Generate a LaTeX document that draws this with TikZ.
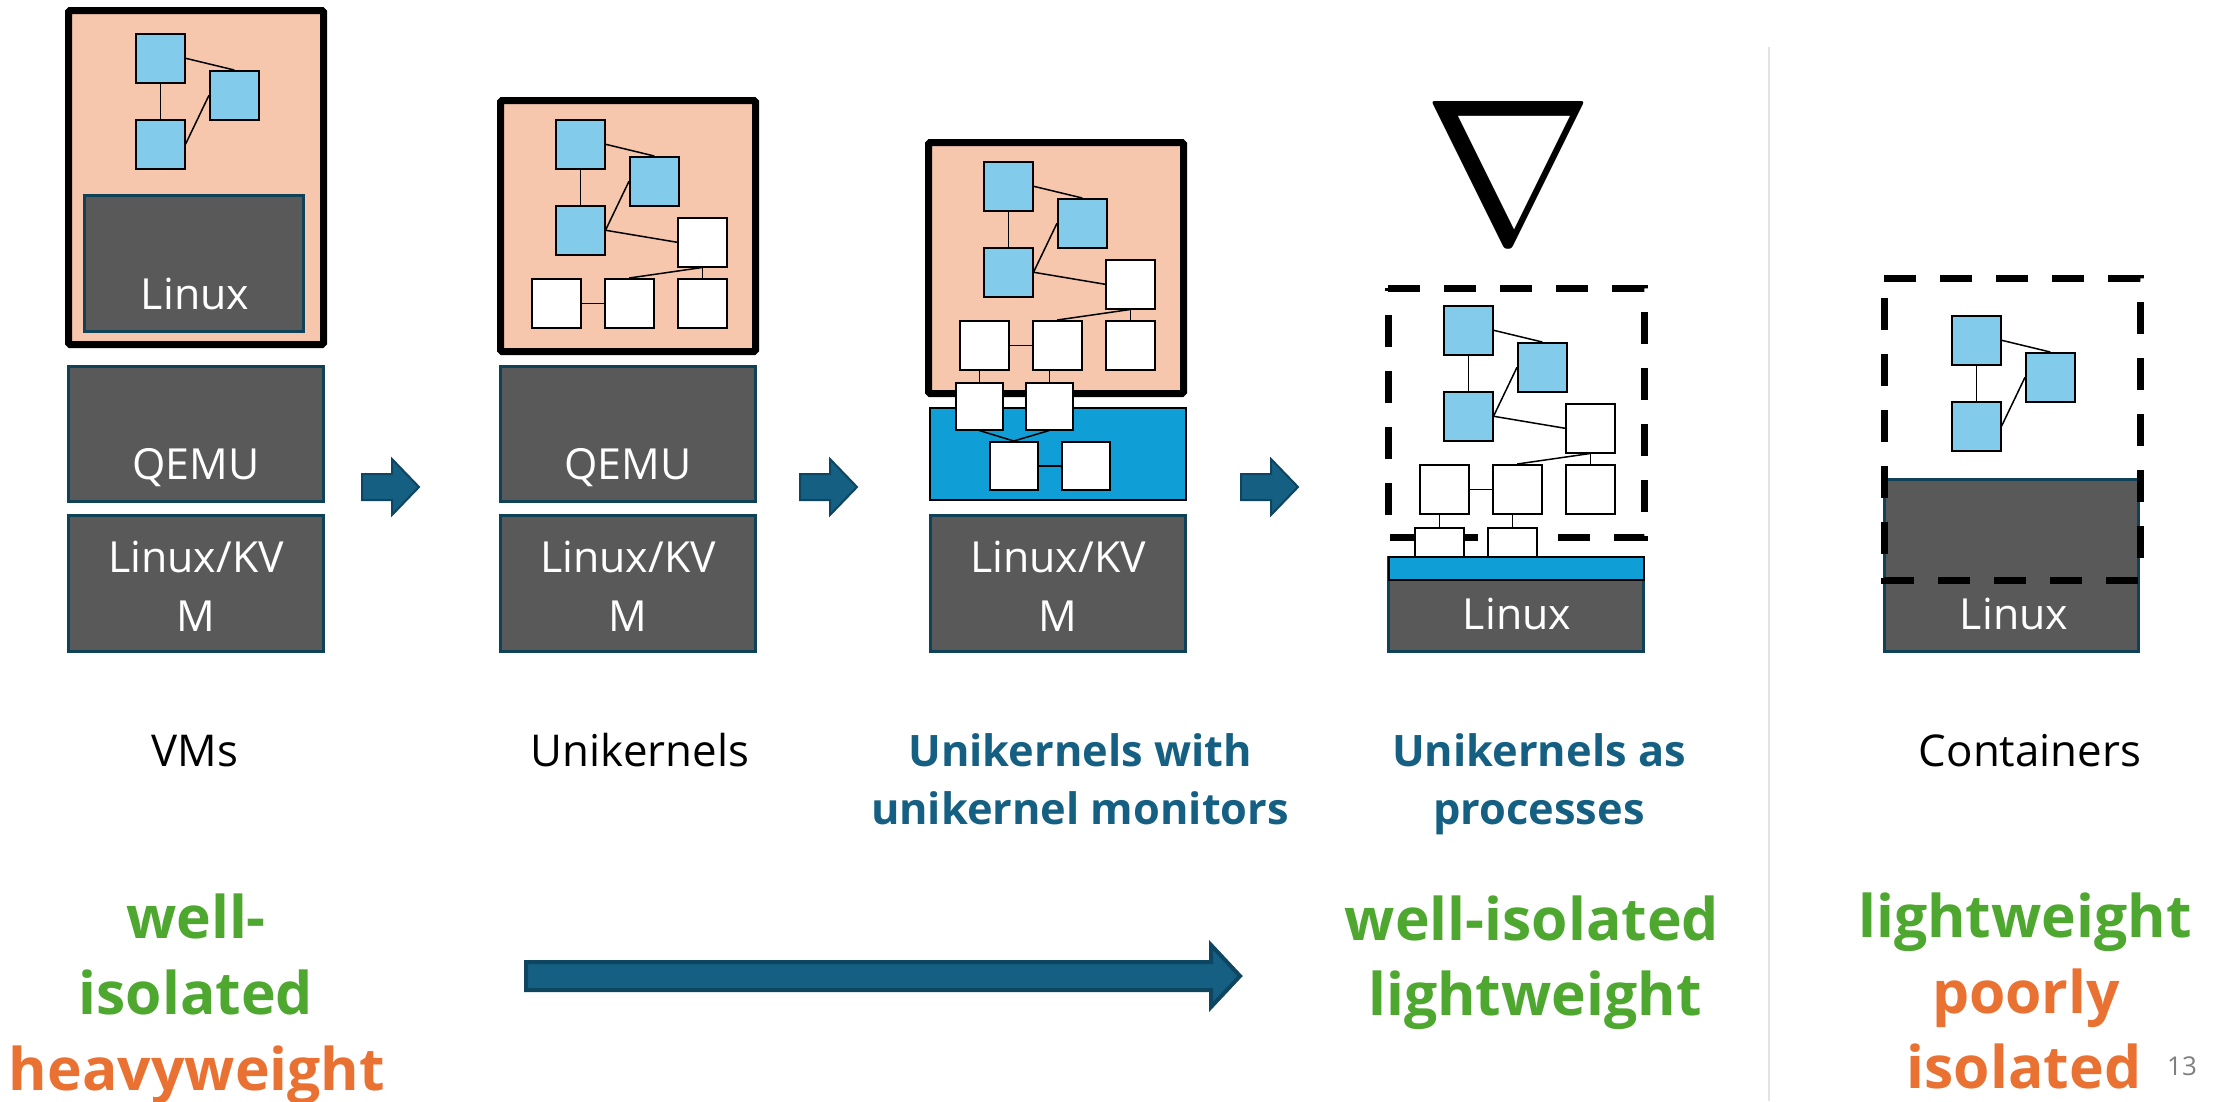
\documentclass[tikz,border=0pt]{standalone}
\usepackage{fontspec}
\setmainfont{Open Sans}
\usetikzlibrary{fit}
\definecolor{peach}{HTML}{F6C6AD}
\definecolor{sqblue}{HTML}{83CBEB}
\definecolor{boxgray}{HTML}{595959}
\definecolor{boxedge}{HTML}{0F4157}
\definecolor{monblue}{HTML}{0F9ED5}
\definecolor{arrowfill}{HTML}{156082}
\definecolor{arrowedge}{HTML}{0E4560}
\definecolor{okgreen}{HTML}{4EA72E}
\definecolor{badorange}{HTML}{E97132}
\definecolor{titleblue}{HTML}{156082}
\definecolor{sepgray}{HTML}{E3E3E3}
\definecolor{pagegray}{HTML}{7F7F7F}
\newcommand\trio[1]{%
  \node[sqb] (#1s1) at (0,0) {};
  \node[sqb] (#1s2) at (74,37) {};
  \node[sqb] (#1s3) at (0,86) {};
  \draw[conn] (#1s1.east) -- (#1s2.north);
  \draw[conn] (#1s1.south) -- (#1s3.north);
  \draw[conn] (#1s3.east) -- (#1s2.west);
}
\newcommand\whiterows[1]{%
  \node[sqw] (#1s4) at (122,98) {};
  \node[sqw] (#1w1) at (-24,159) {};
  \node[sqw] (#1w2) at (49,159) {};
  \node[sqw] (#1w3) at (122,159) {};
  \draw[conn] (#1s3.east) -- (#1s4.west);
  \draw[conn] (#1s4.south) -- (#1w3.north);
  \draw[conn] (#1s4.south) -- (#1w2.north);
  \draw[conn] (#1w1.east) -- (#1w2.west);
}
\newcommand\smallarrow[2]{%
  \begin{scope}[shift={(#2,0)}]
  \draw[arrowshape, line width=2bp] (0,474) -- (30,474) -- (30,459) -- (57,487)
     -- (30,515) -- (30,500) -- (0,500) -- cycle;
  \coordinate (#1) at (57,487);
  \end{scope}
}
\begin{document}
\begin{tikzpicture}[x=1bp,y=-1bp,
  sqb/.style={draw=black, line width=1.5bp, fill=sqblue, minimum width=49bp,
     minimum height=49bp, inner sep=0pt, anchor=north west},
  sqw/.style={sqb, fill=white},
  conn/.style={draw=black, line width=1.5bp},
  thickbox/.style={draw=black, fill=peach, line width=7bp, rounded corners=1.5bp,
     inner sep=0pt},
  graybox/.style={draw=boxedge, fill=boxgray, line width=3bp, inner sep=0pt},
  monbar/.style={draw=black, fill=monblue, line width=2bp, inner sep=0pt},
  dashbox/.style={draw=black, line width=7bp, dash pattern=on 32bp off 24bp},
  arrowshape/.style={fill=arrowfill, draw=arrowedge, line join=miter},
  boxtxt/.style={text=white, font=\fontsize{43}{50}\selectfont, anchor=base, inner sep=0pt},
  lbl/.style={text=black, font=\fontsize{44}{52}\selectfont, anchor=base, inner sep=0pt},
  lblb/.style={text=titleblue, font=\fontsize{43.5}{52}\selectfont\bfseries, anchor=base, inner sep=0pt},
  good/.style={text=okgreen, font=\fontsize{59}{68}\selectfont\bfseries, anchor=base, inner sep=0pt},
  bad/.style={good, text=badorange}
]
\useasboundingbox (0,0) rectangle (2221,1101);
\fill[white] (0,0) rectangle (2221,1101);

% ---------------- column 1 : VMs
\node[thickbox, fit={(68.5,10.5) (323.5,344.5)}] (vm1) {};
\node[graybox, fit={(84.5,195.5) (303.5,331.5)}] (glin1) {};
\node[boxtxt] (tglin1) at (195,309) {Linux};
\begin{scope}[shift={(135,33)}]
  \trio{a}
\end{scope}
\node[graybox, fit={(68.5,366.5) (323.5,501.5)}] (qemu1) {};
\node[boxtxt] (tqemu1) at (196,479) {QEMU};
\node[graybox, fit={(68.5,515.5) (323.5,651.5)}] (kvm1) {};
\node[boxtxt] (tkvma1) at (196,572) {Linux/KV};
\node[boxtxt] (tkvmb1) at (196,631) {M};
\smallarrow{arr1}{362}

% ---------------- column 2 : Unikernels
\node[thickbox, fit={(500.5,100.5) (755.5,351.5)}] (vm2) {};
\begin{scope}[shift={(555,119)}]
  \trio{b}
  \whiterows{b}
\end{scope}
\node[graybox, fit={(500.5,366.5) (755.5,501.5)}] (qemu2) {};
\node[boxtxt] (tqemu2) at (628,479) {QEMU};
\node[graybox, fit={(500.5,515.5) (755.5,651.5)}] (kvm2) {};
\node[boxtxt] (tkvma2) at (628,572) {Linux/KV};
\node[boxtxt] (tkvmb2) at (628,631) {M};
\smallarrow{arr2}{800}

% ---------------- column 3 : unikernel monitors
\node[thickbox, fit={(928.5,142.5) (1183.5,393.5)}] (vm3) {};
\node[monbar, fit={(930,408) (1186,500)}] (mon3) {};
\begin{scope}[shift={(983,161)}]
  \trio{c}
  \whiterows{c}
  \node[sqw, minimum width=47bp, minimum height=47bp] (cb1) at (-28,221) {};
  \node[sqw, minimum width=47bp, minimum height=47bp] (cb2) at (42,221) {};
  \node[sqw, minimum width=48bp, minimum height=48bp] (cm1) at (6,280) {};
  \node[sqw, minimum width=48bp, minimum height=48bp] (cm2) at (78,280) {};
  \draw[conn] (cb1.north) -- (cb1.north |- cw1.south);
  \draw[conn] (cb2.north) -- (cb2.north |- cw2.south);
  \draw[conn] (cb1.south) -- (cm1.north);
  \draw[conn] (cb2.south) -- (cm1.north);
  \draw[conn] (cm1.east) -- (cm2.west);
\end{scope}
\node[graybox, fit={(930.5,515.5) (1185.5,651.5)}] (kvm3) {};
\node[boxtxt] (tkvma3) at (1058,572) {Linux/KV};
\node[boxtxt] (tkvmb3) at (1058,631) {M};
\smallarrow{arr3}{1241}

% ---------------- column 4 : unikernels as processes
\node[inner sep=0pt] (nabla) at (1508.5,171.5) {\resizebox*{170bp}{141bp}{$\nabla$}};
\draw[dashbox] (1388,288) -- (1644,288) -- (1644,537.5) -- (1388,537.5) -- cycle;
\node[graybox, fit={(1388.5,557) (1643.5,651.5)}] (lin4) {};
\node[monbar, fit={(1389,557) (1644,580)}] (bar4) {};
\node[boxtxt] (tlin4) at (1517,629) {Linux};
\begin{scope}[shift={(1443,305)}]
  \trio{d}
  \whiterows{d}
  \node[sqw, minimum height=29bp] (db1) at (-29,222) {};
  \node[sqw, minimum height=29bp] (db2) at (44,222) {};
  \draw[conn] (db1.north) -- (db1.north |- dw1.south);
  \draw[conn] (db2.north) -- (db2.north |- dw2.south);
\end{scope}

% ---------------- separator
\draw[sepgray, line width=2bp] (1769,47) -- (1769,1101);

% ---------------- column 5 : containers
\node[graybox, fit={(1884.5,479.5) (2138.5,651.5)}] (lin5) {};
\node[boxtxt] (tlin5) at (2014,629) {Linux};
\begin{scope}[shift={(1951,315)}]
  \trio{e}
\end{scope}
\draw[dashbox] (1884,278) -- (2140,278) -- (2140,580) -- (1884,580) -- cycle;

% ---------------- labels
\node[lbl] (lvm) at (195,766) {VMs};
\node[lbl] (luk) at (640,766) {Unikernels};
\node[lblb] (lmona) at (1080,766) {Unikernels with};
\node[lblb] (lmonb) at (1080,824) {unikernel monitors};
\node[lblb] (lproa) at (1539,766) {Unikernels as};
\node[lblb] (lprob) at (1539,824) {processes};
\node[lbl] (lcon) at (2030,766) {Containers};

\node[good] (q1a) at (196,938) {well-};
\node[good] (q1b) at (196,1014) {isolated};
\node[bad]  (q1c) at (197,1090) {heavyweight};
\node[good] (q4a) at (1532,940) {well-isolated};
\node[good] (q4b) at (1535,1015) {lightweight};
\node[good] (q5a) at (2025,937) {lightweight};
\node[bad]  (q5b) at (2026,1013) {poorly};
\node[bad]  (q5c) at (2024,1088) {isolated};
\node[text=pagegray, font=\fontsize{26}{30}\selectfont, anchor=base, inner sep=0pt] (pg) at (2182,1075) {13};

% ---------------- big arrow
\draw[arrowshape, line width=4bp] (526,962) -- (1211,962) -- (1211,945) -- (1240,976)
   -- (1211,1007) -- (1211,990) -- (526,990) -- cycle;
\end{tikzpicture}
\end{document}
